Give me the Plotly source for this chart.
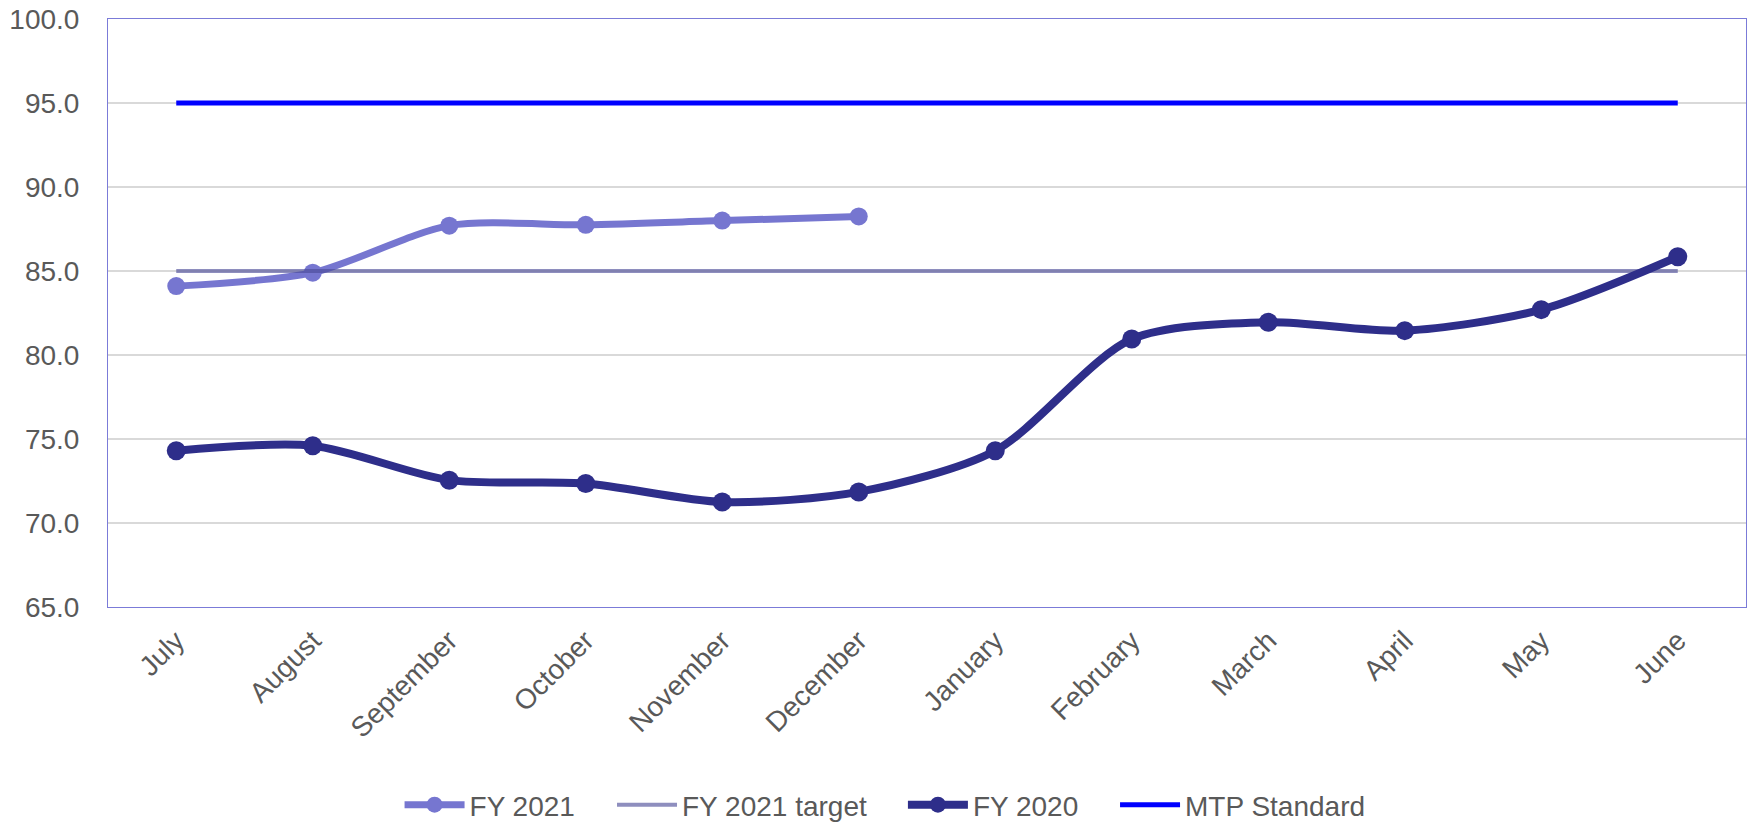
import plotly.graph_objects as go

months = ["July", "August", "September", "October", "November", "December",
          "January", "February", "March", "April", "May", "June"]
fy2021 = [84.1, 84.9, 87.7, 87.75, 88.0, 88.25]
fy2021_target = [85.0] * 12
fy2020 = [74.3, 74.6, 72.55, 72.35, 71.25, 71.85, 74.3, 80.95, 81.95, 81.45, 82.7, 85.85]
mtp_standard = [95.0] * 12

FONT = "Liberation Sans, Arial, sans-serif"
TEXT = "#595959"
FS = 28

fig = go.Figure()
fig.add_trace(go.Scatter(
    x=months[:len(fy2021)], y=fy2021, name="FY 2021", mode="lines+markers",
    line=dict(color="#7676D0", width=7, shape="spline", smoothing=0.8),
    marker=dict(size=18, color="#7676D0"), legend="legend", showlegend=True))
fig.add_trace(go.Scatter(
    x=months, y=fy2021_target, name="FY 2021 target", mode="lines",
    line=dict(color="rgba(72,72,150,0.62)", width=4), legend="legend2"))
fig.add_trace(go.Scatter(
    x=months, y=fy2020, name="FY 2020", mode="lines+markers",
    line=dict(color="#2E2E8A", width=8, shape="spline", smoothing=0.8),
    marker=dict(size=19, color="#2E2E8A"), legend="legend3"))
fig.add_trace(go.Scatter(
    x=months, y=mtp_standard, name="MTP Standard", mode="lines",
    line=dict(color="#0000FF", width=5), legend="legend4"))

def leg(x):
    return dict(orientation="h", x=x, xanchor="left",
                yref="container", y=0.0219, yanchor="middle",
                font=dict(family=FONT, size=FS, color=TEXT),
                bgcolor="rgba(0,0,0,0)", itemwidth=60)

fig.update_layout(
    width=1752, height=823, showlegend=True,
    margin=dict(l=108, r=6, t=19, b=216, autoexpand=False),
    paper_bgcolor="white", plot_bgcolor="white",
    font=dict(family=FONT, size=FS, color=TEXT),
    legend=leg(0.178), legend2=leg(0.3077), legend3=leg(0.4853), legend4=leg(0.6148),
    xaxis=dict(type="category", categoryorder="array", categoryarray=months,
               range=[-0.5, 11.5], tickangle=-45, ticks="", showgrid=False,
               showline=True, linecolor="#7B7BD8", linewidth=1, mirror=True,
               automargin=False,
               tickfont=dict(family=FONT, size=FS, color=TEXT), ticklabelstandoff=5),
    yaxis=dict(range=[65, 100], dtick=5, tickformat=".1f", ticks="",
               showgrid=True, gridcolor="#D9D9D9", gridwidth=1.5,
               showline=True, linecolor="#7B7BD8", linewidth=1, mirror=True,
               zeroline=False, automargin=False,
               tickfont=dict(family=FONT, size=FS, color=TEXT),
               ticklabelstandoff=22),
)

fig.write_html("out.html")
